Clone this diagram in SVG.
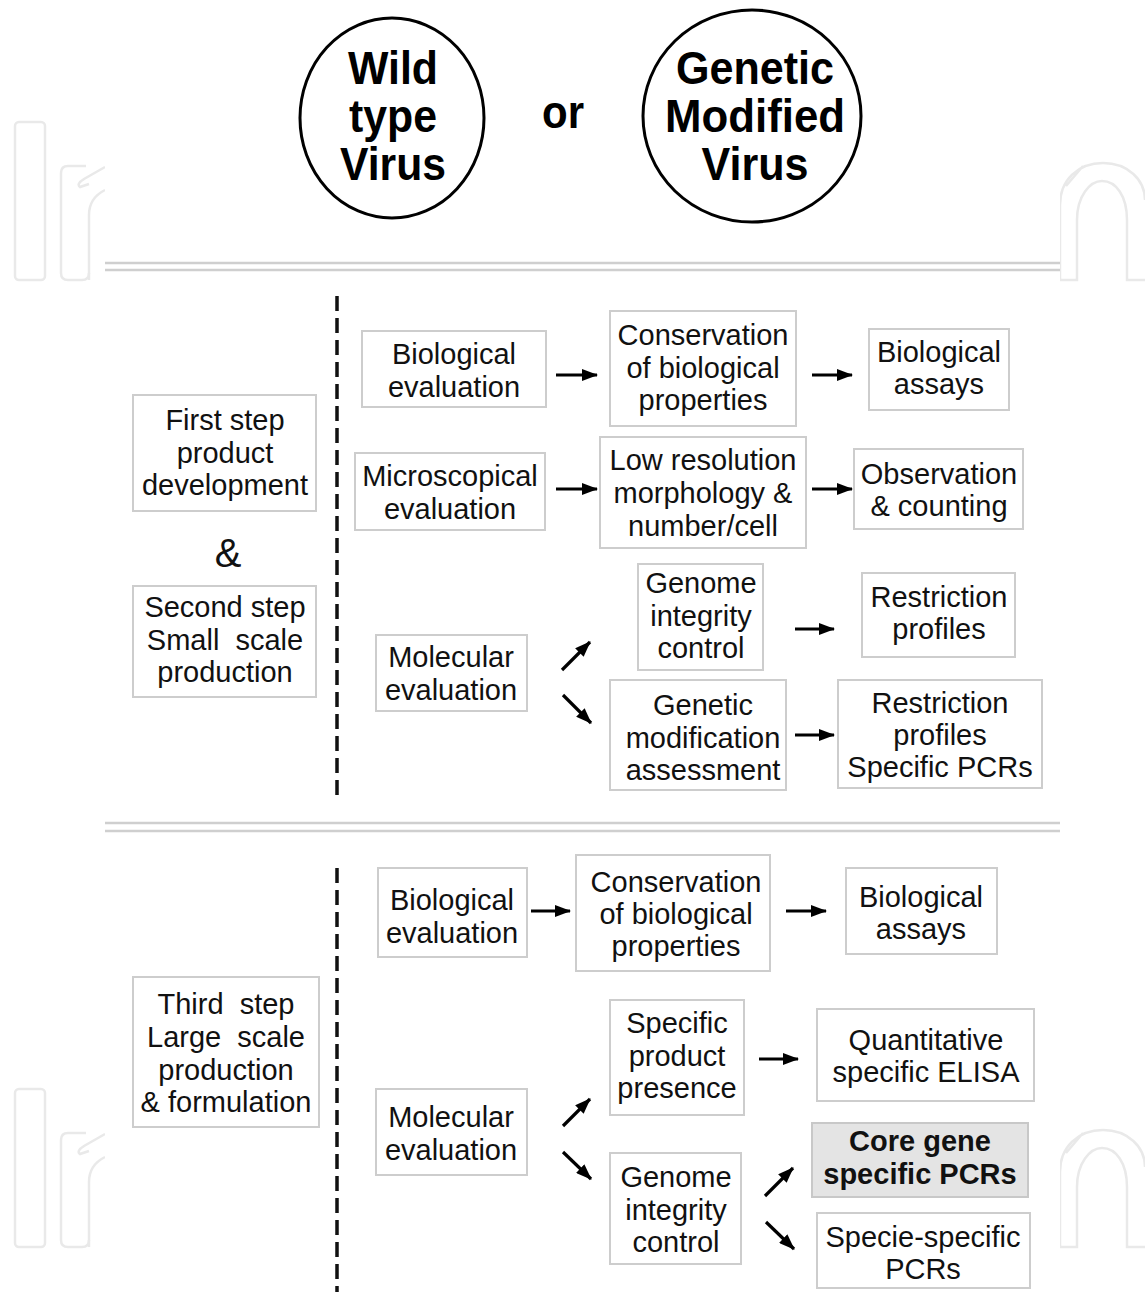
<svg xmlns="http://www.w3.org/2000/svg" width="1145" height="1292" viewBox="0 0 1145 1292">
<style>
.box{fill:#fff;stroke:#cdcdcd;stroke-width:2}
.hl{fill:#e4e4e4;stroke:#c8c8c8;stroke-width:2}
.t{font-family:"Liberation Sans",Arial,sans-serif;font-size:29px;text-anchor:middle;fill:#111}
.b{font-weight:bold}
.big{font-family:"Liberation Sans",Arial,sans-serif;font-size:46px;font-weight:bold;text-anchor:middle;fill:#000}
.ell{fill:#fff;stroke:#000;stroke-width:3}
.sep{stroke:#cfcfcf;stroke-width:2.5;fill:none}
.dash{stroke:#111;stroke-width:3.5;stroke-dasharray:15 7;fill:none}
.arr{stroke:#000;stroke-width:3.2;fill:none;marker-end:url(#ah)}
.wm{fill:none;stroke:#e9e9e9;stroke-width:2.5}
</style>
<defs>
<marker id="ah" viewBox="0 0 16 12" refX="15" refY="6" markerWidth="16" markerHeight="12" markerUnits="userSpaceOnUse" orient="auto">
<path d="M0,0 L16,6 L0,12 Z" fill="#000"/>
</marker>
</defs>
<rect width="1145" height="1292" fill="#fff"/>
<g id="watermark">
<g id="wm-top">
<rect class="wm" x="15" y="122" width="30" height="158" rx="4"/>
<path class="wm" d="M105,167 L84,179 Q76,184 80,187 L89,184 M61,273 L61,173 Q61,166 68,166 L86,166 M89,280 L89,215 Q89,198 105,190"/>
<path class="wm" d="M61,273 Q61,280 68,280 L82,280 Q89,280 89,273"/>
<path class="wm" d="M1060,280 L1060,205 C1060,180 1078,163 1103,163 C1128,163 1145,180 1145,200 M1066,186 L1083,166 M1060,280 L1077,280 L1077,220 C1077,196 1090,181 1102,181 C1116,181 1127,196 1127,220 L1127,280 L1145,280"/>
</g>
<g id="wm-bottom">
<rect class="wm" x="15" y="1089" width="30" height="158" rx="4"/>
<path class="wm" d="M105,1134 L84,1146 Q76,1151 80,1154 L89,1151 M61,1240 L61,1140 Q61,1133 68,1133 L86,1133 M89,1247 L89,1182 Q89,1165 105,1157"/>
<path class="wm" d="M61,1240 Q61,1247 68,1247 L82,1247 Q89,1247 89,1240"/>
<path class="wm" d="M1060,1247 L1060,1172 C1060,1147 1078,1130 1103,1130 C1128,1130 1145,1147 1145,1167 M1066,1153 L1083,1133 M1060,1247 L1077,1247 L1077,1187 C1077,1163 1090,1148 1102,1148 C1116,1148 1127,1163 1127,1187 L1127,1247 L1145,1247"/>
</g>
<rect x="105" y="0" width="955" height="1292" fill="#fff"/>
</g>
<g id="separators">
<line class="sep" x1="105" y1="263" x2="1060" y2="263"/>
<line class="sep" x1="105" y1="270" x2="1060" y2="270"/>
<line class="sep" x1="105" y1="823" x2="1060" y2="823"/>
<line class="sep" x1="105" y1="831" x2="1060" y2="831"/>
<line class="dash" x1="337" y1="296" x2="337" y2="795"/>
<line class="dash" x1="337" y1="868" x2="337" y2="1292"/>
</g>
<g id="wild">
<ellipse class="ell" cx="392" cy="118" rx="92" ry="100"/>
<text class="big" x="393" y="84" textLength="90" lengthAdjust="spacingAndGlyphs">Wild</text>
<text class="big" x="393" y="132" textLength="88" lengthAdjust="spacingAndGlyphs">type</text>
<text class="big" x="393" y="180" textLength="106" lengthAdjust="spacingAndGlyphs">Virus</text>
</g>
<g id="or"><text class="big" x="563" y="128" textLength="42" lengthAdjust="spacingAndGlyphs">or</text></g>
<g id="gmv">
<ellipse class="ell" cx="752" cy="116" rx="109" ry="106"/>
<text class="big" x="755" y="84" textLength="158" lengthAdjust="spacingAndGlyphs">Genetic</text>
<text class="big" x="755" y="132" textLength="180" lengthAdjust="spacingAndGlyphs">Modified</text>
<text class="big" x="755" y="180" textLength="107" lengthAdjust="spacingAndGlyphs">Virus</text>
</g>
<g id="step12">
<g id="first-step"><rect class="box" x="133" y="395" width="183" height="116"/>
<text class="t" x="225" y="430">First step</text><text class="t" x="225" y="463">product</text><text class="t" x="225" y="495">development</text></g>
<g id="amp"><text class="t" x="228" y="567" style="font-size:40px">&amp;</text></g>
<g id="second-step"><rect class="box" x="133" y="586" width="183" height="111"/>
<text class="t" x="225" y="617">Second step</text><text class="t" x="225" y="650" xml:space="preserve">Small  scale</text><text class="t" x="225" y="682">production</text></g>
<g id="bio-eval-1"><rect class="box" x="362" y="331" width="184" height="76"/>
<text class="t" x="454" y="364">Biological</text><text class="t" x="454" y="397">evaluation</text></g>
<g id="conservation-1"><rect class="box" x="610" y="311" width="186" height="115"/>
<text class="t" x="703" y="345">Conservation</text><text class="t" x="703" y="378">of biological</text><text class="t" x="703" y="410">properties</text></g>
<g id="assays-1"><rect class="box" x="869" y="329" width="140" height="81"/>
<text class="t" x="939" y="362">Biological</text><text class="t" x="939" y="394">assays</text></g>
<g id="micro-eval"><rect class="box" x="355" y="453" width="190" height="77"/>
<text class="t" x="450" y="486">Microscopical</text><text class="t" x="450" y="519">evaluation</text></g>
<g id="low-res"><rect class="box" x="600" y="437" width="206" height="111"/>
<text class="t" x="703" y="470">Low resolution</text><text class="t" x="703" y="503">morphology &amp;</text><text class="t" x="703" y="536">number/cell</text></g>
<g id="observation"><rect class="box" x="854" y="449" width="169" height="80"/>
<text class="t" x="939" y="484">Observation</text><text class="t" x="939" y="516">&amp; counting</text></g>
<g id="mol-eval-1"><rect class="box" x="376" y="635" width="151" height="76"/>
<text class="t" x="451" y="667">Molecular</text><text class="t" x="451" y="700">evaluation</text></g>
<g id="genome-1"><rect class="box" x="638" y="564" width="125" height="106"/>
<text class="t" x="701" y="593">Genome</text><text class="t" x="701" y="626">integrity</text><text class="t" x="701" y="658">control</text></g>
<g id="restriction-1"><rect class="box" x="862" y="573" width="153" height="84"/>
<text class="t" x="939" y="607">Restriction</text><text class="t" x="939" y="639">profiles</text></g>
<g id="genetic-mod"><rect class="box" x="610" y="680" width="176" height="110"/>
<text class="t" x="703" y="715">Genetic</text><text class="t" x="703" y="748">modification</text><text class="t" x="703" y="780">assessment</text></g>
<g id="restriction-2"><rect class="box" x="838" y="680" width="204" height="108"/>
<text class="t" x="940" y="713">Restriction</text><text class="t" x="940" y="745">profiles</text><text class="t" x="940" y="777">Specific PCRs</text></g>
</g>
<g id="step3">
<g id="bio-eval-2"><rect class="box" x="378" y="868" width="149" height="89"/>
<text class="t" x="452" y="910">Biological</text><text class="t" x="452" y="943">evaluation</text></g>
<g id="conservation-2"><rect class="box" x="576" y="855" width="194" height="116"/>
<text class="t" x="676" y="892">Conservation</text><text class="t" x="676" y="924">of biological</text><text class="t" x="676" y="956">properties</text></g>
<g id="assays-2"><rect class="box" x="846" y="868" width="151" height="86"/>
<text class="t" x="921" y="907">Biological</text><text class="t" x="921" y="939">assays</text></g>
<g id="third-step"><rect class="box" x="133" y="977" width="186" height="150"/>
<text class="t" x="226" y="1014" xml:space="preserve">Third  step</text><text class="t" x="226" y="1047" xml:space="preserve">Large  scale</text><text class="t" x="226" y="1080">production</text><text class="t" x="226" y="1112">&amp; formulation</text></g>
<g id="mol-eval-2"><rect class="box" x="376" y="1089" width="151" height="86"/>
<text class="t" x="451" y="1127">Molecular</text><text class="t" x="451" y="1160">evaluation</text></g>
<g id="specific-product"><rect class="box" x="610" y="1000" width="134" height="115"/>
<text class="t" x="677" y="1033">Specific</text><text class="t" x="677" y="1066">product</text><text class="t" x="677" y="1098">presence</text></g>
<g id="elisa"><rect class="box" x="817" y="1009" width="217" height="92"/>
<text class="t" x="926" y="1050">Quantitative</text><text class="t" x="926" y="1082">specific ELISA</text></g>
<g id="core-gene"><rect class="hl" x="812" y="1123" width="216" height="74"/>
<text class="t b" x="920" y="1151">Core gene</text><text class="t b" x="920" y="1184">specific PCRs</text></g>
<g id="genome-2"><rect class="box" x="610" y="1153" width="131" height="111"/>
<text class="t" x="676" y="1187">Genome</text><text class="t" x="676" y="1220">integrity</text><text class="t" x="676" y="1252">control</text></g>
<g id="specie"><rect class="box" x="817" y="1213" width="213" height="75"/>
<text class="t" x="923" y="1247">Specie-specific</text><text class="t" x="923" y="1279">PCRs</text></g>
</g>
<g id="connectors">
<line class="arr" x1="556" y1="375" x2="597" y2="375"/>
<line class="arr" x1="812" y1="375" x2="852" y2="375"/>
<line class="arr" x1="556" y1="489" x2="597" y2="489"/>
<line class="arr" x1="812" y1="489" x2="852" y2="489"/>
<line class="arr" x1="562" y1="670" x2="590" y2="642"/>
<line class="arr" x1="563" y1="695" x2="591" y2="723"/>
<line class="arr" x1="795" y1="629" x2="834" y2="629"/>
<line class="arr" x1="795" y1="735" x2="834" y2="735"/>
<line class="arr" x1="531" y1="911" x2="570" y2="911"/>
<line class="arr" x1="786" y1="911" x2="826" y2="911"/>
<line class="arr" x1="759" y1="1059" x2="798" y2="1059"/>
<line class="arr" x1="563" y1="1126" x2="590" y2="1099"/>
<line class="arr" x1="563" y1="1152" x2="591" y2="1179"/>
<line class="arr" x1="765" y1="1196" x2="793" y2="1168"/>
<line class="arr" x1="766" y1="1222" x2="794" y2="1249"/>
</g>
</svg>
